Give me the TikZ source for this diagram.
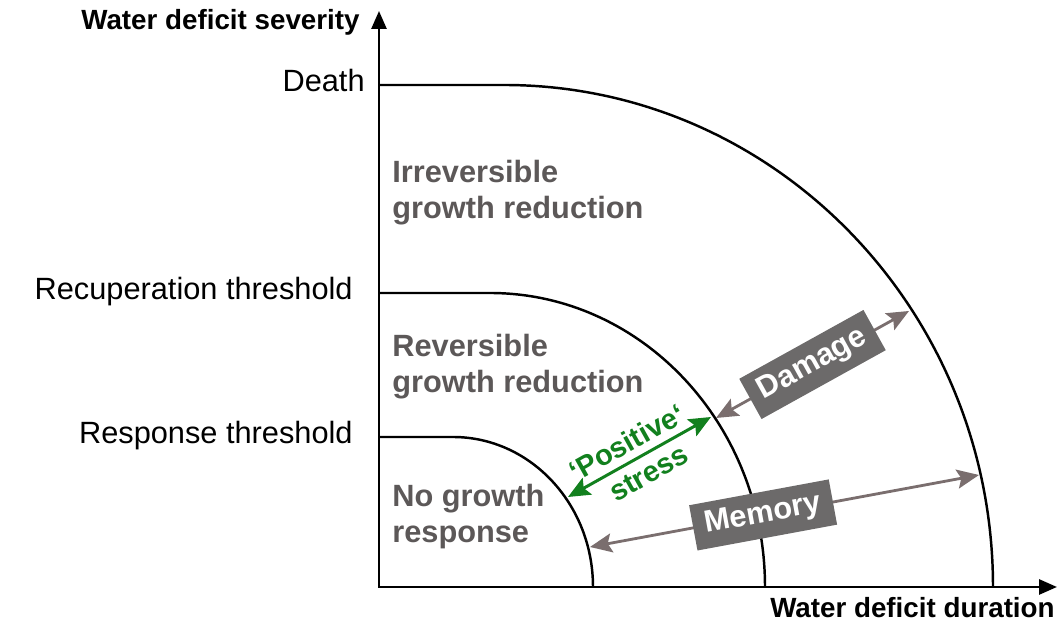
\documentclass[tikz,border=0pt]{standalone}
\usepackage{fontspec}
\setmainfont{Liberation Sans}
\usetikzlibrary{positioning,arrows.meta}

\definecolor{regiongray}{RGB}{92,88,88}
\definecolor{boxgray}{RGB}{108,106,106}
\definecolor{arrowgray}{RGB}{122,110,110}
\definecolor{stressgreen}{RGB}{18,128,30}

\begin{document}
\begin{tikzpicture}[x=0.2mm,y=0.2mm,node distance=3mm,
	axis/.style={line width=1.6pt,
		{Triangle[length=3.6mm,width=3mm]}-{Triangle[length=3.6mm,width=3mm]}},
	limit/.style={line width=1.4pt},
	ylabel/.style={font=\fontsize{17.5}{20}\selectfont,
		inner sep=0pt, text height=0.72em, text depth=0pt},
	axislabel/.style={font=\bfseries\fontsize{15.8}{18}\selectfont,
		inner sep=0pt, text height=0.72em, text depth=0pt},
	region/.style={font=\bfseries\fontsize{17.5}{20.5}\selectfont,
		text=regiongray, align=left, inner sep=0pt, anchor=west},
	span/.style={line width=1.6pt, draw=arrowgray,
		{Stealth[length=4.4mm,width=3.8mm,inset=0.8mm]}-{Stealth[length=4.4mm,width=3.8mm,inset=0.8mm]}},
	gbox/.style={fill=boxgray, text=white, inner sep=0pt,
		font=\bfseries\fontsize{17.5}{20}\selectfont,
		minimum width=28.4mm, minimum height=9.2mm},
	stress/.style={line width=1.7pt, draw=stressgreen,
		{Stealth[length=4.4mm,width=3.8mm,inset=0.8mm]}-{Stealth[length=4.4mm,width=3.8mm,inset=0.8mm]}},
	stresstext/.style={font=\bfseries\fontsize{16.5}{19}\selectfont,
		text=stressgreen, inner sep=0pt}
]

\useasboundingbox (-379,-42) rectangle (680,587);

% Axes
\coordinate (origin) at (0,0);
\coordinate (y_top) at (0,576);
\coordinate (x_end) at (678,0);

\draw[axis] (y_top) -- (origin) -- (x_end);

\node[axislabel, anchor=east] (severity_lbl) at (-19,564) {Water deficit severity};
\node[axislabel, anchor=east] (duration_lbl) at (676,-24) {Water deficit duration};

%%%%%%%%%%%%%%%%%%%
% Thresholds

\coordinate (death) at (0,502);
\coordinate (recup) at (0,294);
\coordinate (response) at (0,150);

\draw[limit] (response) -- ++(74,0)
	arc[start angle=90, end angle=0, x radius=140, y radius=150];
\draw[limit] (recup) -- ++(111,0)
	arc[start angle=90, end angle=0, x radius=275, y radius=294];
\draw[limit] (death) -- ++(125,0)
	arc[start angle=90, end angle=0, x radius=489, y radius=502];

\node[ylabel, left=2.8mm of death] (death_lbl) {Death};
\node[ylabel, left=5.2mm of recup] (recup_lbl) {Recuperation threshold};
\node[ylabel, left=5.2mm of response] (response_lbl) {Response threshold};

%%%%%%%%%%%%%%%%%%%
% Regions

\node[region] (irrev) at (13,394) {Irreversible\\growth reduction};
\node[region] (rev) at (13,220) {Reversible\\growth reduction};
\node[region] (nogrowth) at (13,70) {No growth\\response};

%%%%%%%%%%%%%%%%%%%
% Spans between the limits

\coordinate (pos_in) at (189,90);
\coordinate (pos_out) at (332,170);
\coordinate (dmg_in) at (337,169);
\coordinate (dmg_out) at (530,276);
\coordinate (mem_in) at (211,40);
\coordinate (mem_out) at (600,112);

\draw[stress] (pos_in) -- (pos_out)
	node[midway, sloped, above=1.4mm, xshift=-0.8mm, stresstext] (positive_lbl) {`Positive`}
	node[midway, sloped, below=1.6mm, stresstext] (stress_lbl) {stress};

\draw[span] (dmg_in) -- (dmg_out)
	node[midway, sloped, gbox] (damage) {Damage};

\draw[span] (mem_in) -- (mem_out)
	node[pos=0.445, sloped, gbox] (memory) {Memory};

\end{tikzpicture}
\end{document}
